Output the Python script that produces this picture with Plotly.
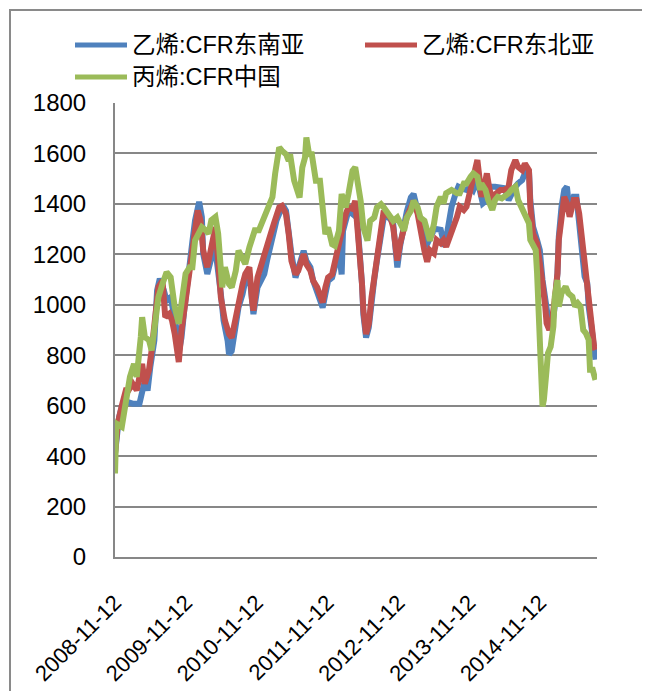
import numpy as np
import pandas as pd
import plotly.graph_objects as go

# ---- data (weekly offsets from 2008-11-12, values) ----
start_date = "2008-11-12"
tick_labels = ["2008-11-12", "2009-11-12", "2010-11-12", "2011-11-12",
               "2012-11-12", "2013-11-12", "2014-11-12"]

names = ["乙烯:CFR东南亚", "乙烯:CFR东北亚", "丙烯:CFR中国"]

se_weeks = [0,3,5,9,13,16,18,22,24,26,29,31,33,36,38,41,43,46,47,49,51,53,55,57,59,61,62,64,65,68,70,73,74,75,78,80,83,84,86,89,91,94,96,99,101,102,105,107,110,112,114,117,119,122,124,126,128,130,133,135,139,141,144,146,149,153,155,157,160,162,165,167,168,170,172,175,177,178,180,182,183,185,187,189,191,193,196,198,200,203,205,207,208,210,213,215,218,220,223,225,228,230,232,235,237,240,243,246,248,251,253,256,259,262,264,267,269,271,274,276,280,284,287,290,292,295,297,300,302,305,306,308,311,313,315,317,319,320,322,324,326,327,329,331,333,335,338,340,342,344,346,348,349,351,353,354]
se_vals = [410,555,595,615,608,610,608,700,660,753,859,1057,1103,1057,1017,1030,964,885,810,870,978,1083,1200,1250,1335,1405,1408,1348,1202,1122,1175,1228,1295,1175,1043,937,857,804,817,910,990,1043,1096,1122,990,963,1069,1096,1122,1175,1228,1282,1335,1373,1392,1373,1280,1201,1108,1148,1214,1174,1148,1095,1055,989,1042,1095,1108,1161,1214,1120,1293,1333,1373,1360,1400,1373,1241,1082,960,870,910,1020,1100,1175,1300,1346,1350,1340,1320,1230,1148,1230,1320,1370,1426,1439,1373,1320,1254,1241,1260,1297,1300,1297,1231,1323,1389,1442,1468,1460,1455,1468,1455,1494,1442,1402,1415,1468,1468,1462,1462,1415,1442,1468,1481,1494,1521,1534,1415,1310,1257,1217,1098,1019,966,914,914,993,1125,1270,1389,1455,1468,1362,1428,1428,1323,1191,1112,1085,993,914,808,782]

ne_weeks = [0,2,5,8,10,13,16,20,22,25,27,30,32,35,37,40,42,44,47,49,52,54,57,59,61,63,65,68,70,73,74,76,78,81,84,86,89,91,94,96,99,101,102,105,107,110,112,114,117,119,121,123,126,128,130,133,135,139,141,144,146,149,153,155,157,160,162,165,167,170,172,175,177,178,180,182,183,185,187,189,191,193,196,198,200,203,205,207,208,210,213,215,218,220,223,225,228,230,232,235,237,240,242,244,247,249,252,254,257,259,262,264,267,269,270,273,274,276,279,281,284,287,290,292,295,297,300,302,305,306,308,311,313,315,317,318,320,322,324,326,327,329,331,333,335,338,340,342,344,346,348,349,351,353,354]
ne_vals = [410,529,600,661,661,687,661,766,687,740,819,951,1070,1096,951,964,938,885,773,898,1017,1123,1220,1310,1374,1335,1215,1149,1202,1255,1308,1175,1029,937,884,870,950,1029,1082,1122,1149,1016,977,1109,1149,1189,1228,1268,1321,1361,1386,1392,1359,1280,1174,1121,1135,1201,1161,1135,1095,1069,1009,1069,1108,1121,1174,1254,1307,1359,1386,1380,1412,1320,1214,1082,977,884,924,1029,1109,1175,1307,1373,1360,1346,1307,1214,1175,1241,1320,1346,1386,1412,1360,1294,1214,1170,1217,1204,1257,1244,1257,1230,1270,1310,1349,1389,1376,1389,1455,1508,1574,1481,1428,1494,1521,1455,1415,1442,1455,1455,1468,1534,1574,1547,1534,1560,1534,1389,1283,1244,1178,1085,993,927,900,940,1019,1125,1257,1362,1428,1402,1349,1415,1415,1362,1257,1164,1098,993,914,834,821]

cn_weeks = [0,1,5,8,11,14,16,19,20,22,25,27,30,32,35,38,41,42,44,47,49,52,55,57,59,62,64,67,69,71,74,76,77,79,81,84,86,89,91,94,96,99,101,103,106,108,111,113,116,118,121,123,126,128,129,132,134,136,138,140,141,143,145,148,151,153,155,157,160,162,165,167,170,172,175,177,179,181,183,186,188,191,193,196,198,200,203,205,208,210,213,215,218,220,223,225,228,230,232,235,237,240,242,244,248,252,254,257,259,262,264,267,269,270,273,275,278,280,282,285,287,290,292,295,297,299,301,303,305,306,308,310,311,312,314,315,316,318,319,321,323,324,326,327,329,332,334,337,339,341,343,345,347,349,350,352,354]
cn_vals = [331,529,516,634,714,766,714,872,951,872,860,819,925,1030,1083,1129,1109,1057,991,925,1017,1123,1149,1149,1255,1282,1308,1295,1282,1335,1348,1282,1175,1069,1149,1082,1069,1135,1215,1189,1162,1228,1255,1295,1295,1321,1348,1388,1427,1520,1624,1611,1597,1571,1597,1492,1452,1425,1544,1584,1663,1597,1597,1492,1492,1346,1280,1307,1240,1234,1293,1439,1386,1439,1531,1545,1478,1412,1307,1254,1333,1346,1386,1399,1386,1373,1346,1333,1346,1320,1294,1346,1373,1412,1386,1346,1333,1294,1254,1320,1389,1428,1402,1442,1455,1442,1442,1481,1481,1508,1521,1508,1455,1481,1455,1415,1376,1415,1428,1422,1428,1442,1455,1468,1415,1389,1362,1349,1323,1257,1230,1217,1125,927,729,597,623,742,808,834,914,1032,1098,993,1046,1072,1046,1032,993,1006,993,900,887,861,742,742,702]

colors = ["#4F81BD", "#C0504D", "#9BBB59"]

# ---- figure geometry (figure pixels; page body adds an 8px offset) ----
W, H = 634, 683
L, R, T, B = 107, 589, 95, 549


def px_x(p):
    return (p - L) / (R - L)


def px_y(p):
    return (B - p) / (B - T)


t0 = pd.Timestamp(start_date)


def to_dates(weeks):
    return t0 + pd.to_timedelta(np.array(weeks) * 7, unit="D")


fig = go.Figure()
for wk, vals, nm, col in [(se_weeks, se_vals, names[0], colors[0]),
                          (ne_weeks, ne_vals, names[1], colors[1]),
                          (cn_weeks, cn_vals, names[2], colors[2])]:
    fig.add_trace(go.Scatter(x=to_dates(wk), y=vals, name=nm, mode="lines",
                             line=dict(color=col, width=6), showlegend=False))

font_family = "Liberation Sans, Noto Sans CJK SC, sans-serif"
grid_col = "#878787"

tickvals = [pd.Timestamp(s) for s in tick_labels]
x_end = t0 + pd.Timedelta(days=2486)

fig.update_layout(
    width=W, height=H,
    margin=dict(l=L, r=W - R, t=T, b=H - B, pad=0),
    paper_bgcolor="white", plot_bgcolor="white",
    font=dict(family=font_family, color="black", size=22),
    xaxis=dict(type="date", range=[t0, x_end], tickvals=tickvals,
               ticktext=tick_labels, tickangle=-45, showgrid=False,
               showline=True, linecolor=grid_col, linewidth=2, ticks="",
               ticklabelstandoff=22, tickfont=dict(size=22),
               zeroline=False, automargin=False),
    yaxis=dict(range=[0, 1800], dtick=200, tick0=0, showgrid=True,
               gridcolor=grid_col, gridwidth=2, showline=True,
               linecolor=grid_col, linewidth=2, ticks="",
               ticklabelstandoff=22, tickfont=dict(size=24), zeroline=False,
               automargin=False),
)

shapes = []
# outer chart border
shapes.append(dict(type="rect", xref="paper", yref="paper",
                   x0=px_x(2), x1=px_x(W + 30), y0=px_y(H + 30), y1=px_y(2),
                   line=dict(color="#8a8a8a", width=2), fillcolor="rgba(0,0,0,0)",
                   layer="below"))

# custom legend
legend_items = [(67, 119, 37, names[0], colors[0]),
                (357, 409, 37, names[1], colors[1]),
                (67, 119, 69, names[2], colors[2])]
annotations = []
for x0, x1, yy, nm, col in legend_items:
    shapes.append(dict(type="line", xref="paper", yref="paper",
                       x0=px_x(x0), x1=px_x(x1), y0=px_y(yy), y1=px_y(yy),
                       line=dict(color=col, width=5)))
    annotations.append(dict(xref="paper", yref="paper", x=px_x(x1 + 3),
                            y=px_y(yy), text=nm, showarrow=False,
                            xanchor="left", yanchor="middle",
                            font=dict(size=23.5, family=font_family, color="black")))

fig.update_layout(shapes=shapes, annotations=annotations)

fig.write_html("out.html")
